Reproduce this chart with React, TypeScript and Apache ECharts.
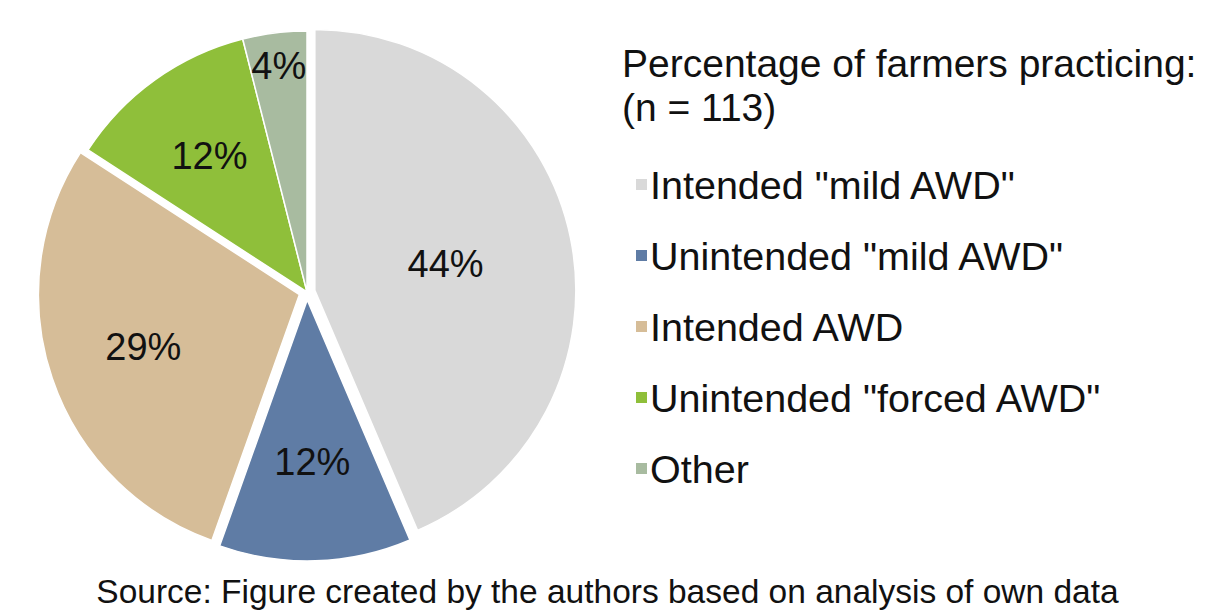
import React, { useEffect, useRef } from "react";
import * as echarts from "echarts";

const categories = [
  'Intended "mild AWD"',
  'Unintended "mild AWD"',
  "Intended AWD",
  'Unintended "forced AWD"',
  "Other",
];
const percentages = [44, 12, 29, 12, 4];
const exploded = [true, true, true, false, false];
const sliceColors = ["#d9d9d9", "#5f7ca5", "#d6bd98", "#8fbf3a", "#a8bba0"];
// label radius as fraction of pie radius (layout only)
const labelRadiusFrac = [0.5, 0.61, 0.62, 0.63, 0.86];

const titleLines = ["Percentage of farmers practicing:", "(n = 113)"];
const sourceText = "Source: Figure created by the authors based on analysis of own data";

const FONT = "'Liberation Sans', Arial, sans-serif";
const CX = 307;
const CY = 292;
const R = 261;

export default function App() {
  const ref = useRef<HTMLDivElement>(null);
  useEffect(() => {
    if (!ref.current) return;
    document.body.style.margin = "0";
    const chart = echarts.init(ref.current, undefined, { renderer: "svg" });
    const total = percentages.reduce((a, b) => a + b, 0);
    const mids: number[] = [];
    let cum = 0;
    percentages.forEach((v) => {
      mids.push(((cum + v / 2) / total) * Math.PI * 2);
      cum += v;
    });
    chart.setOption({
      animation: false,
      backgroundColor: "#ffffff",
      textStyle: { fontFamily: FONT },
      title: [
        {
          text: titleLines.join("\n"),
          left: 617,
          top: 36,
          textStyle: {
            fontFamily: FONT,
            fontSize: 39,
            fontWeight: "normal",
            color: "#111",
            lineHeight: 44,
          },
        },
        {
          text: sourceText,
          left: "center",
          top: 567,
          textStyle: {
            fontFamily: FONT,
            fontSize: 33.5,
            fontWeight: "normal",
            color: "#111",
            lineHeight: 38,
          },
        },
      ],
      legend: {
        orient: "vertical",
        left: 629,
        top: 159,
        icon: "rect",
        itemWidth: 13,
        itemHeight: 13,
        itemGap: 30,
        selectedMode: false,
        data: categories,
        textStyle: {
          fontFamily: FONT,
          fontSize: 39.5,
          color: "#111",
          lineHeight: 41,
          padding: [0, 0, 0, -3],
        },
      },
      series: [
        {
          type: "pie",
          center: [CX, CY],
          radius: R,
          startAngle: 90,
          clockwise: true,
          selectedMode: "multiple",
          selectedOffset: 8,
          avoidLabelOverlap: false,
          itemStyle: { borderColor: "#ffffff", borderWidth: 1.5 },
          label: {
            show: true,
            position: "inside",
            formatter: "{c}%",
            fontFamily: FONT,
            fontSize: 38,
            color: "#111",
          },
          labelLine: { show: false },
          emphasis: { disabled: true },
          labelLayout: (params: any) => {
            const i = params.dataIndex;
            const d = (labelRadiusFrac[i] - 0.5) * R;
            return { dx: Math.sin(mids[i]) * d, dy: -Math.cos(mids[i]) * d };
          },
          data: categories.map((name, i) => ({
            name,
            value: percentages[i],
            selected: exploded[i],
            itemStyle: { color: sliceColors[i] },
            select: { itemStyle: { color: sliceColors[i], borderColor: "#ffffff", borderWidth: 1.5 } },
          })),
        },
      ],
    });
    return () => chart.dispose();
  }, []);
  return (
    <div
      ref={ref}
      style={{ position: "fixed", left: 0, top: 0, width: 1215, height: 612 }}
    />
  );
}
